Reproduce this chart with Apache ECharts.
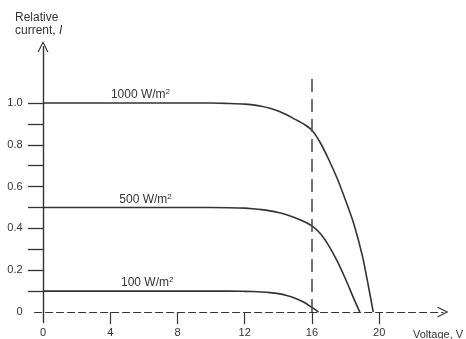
<!DOCTYPE html>
<html>
<head>
<meta charset="utf-8">
<script src="https://cdn.jsdelivr.net/npm/echarts@6/dist/echarts.min.js"></script>
<style>
html,body{margin:0;padding:0;background:#fff;}
#chart{width:466px;height:339px;}
</style>
</head>
<body>
<div id="chart"></div>
<script>
// Data
const voltage1000 = [0, 2, 4, 6, 8, 10, 11, 12, 12.5, 13, 13.5, 14, 14.5, 15, 15.5, 16, 16.5, 17, 17.5, 18, 18.5, 19, 19.3, 19.65];
const current1000 = [1, 1, 1, 1, 1, 1, 0.998, 0.995, 0.991, 0.985, 0.975, 0.962, 0.944, 0.922, 0.9, 0.87, 0.81, 0.73, 0.64, 0.535, 0.42, 0.27, 0.15, 0];
const voltage500 = [0, 2, 4, 6, 8, 10, 11, 12, 12.5, 13, 13.5, 14, 14.5, 15, 15.5, 16, 16.5, 17, 17.5, 18, 18.5, 18.85];
const current500 = [0.5, 0.5, 0.5, 0.5, 0.5, 0.5, 0.499, 0.497, 0.494, 0.49, 0.484, 0.476, 0.465, 0.451, 0.434, 0.412, 0.376, 0.318, 0.245, 0.158, 0.063, 0];
const voltage100 = [0, 2, 4, 6, 8, 10, 11, 12, 12.5, 13, 13.5, 14, 14.5, 15, 15.5, 16, 16.4];
const current100 = [0.1, 0.1, 0.1, 0.1, 0.1, 0.1, 0.1, 0.099, 0.098, 0.096, 0.093, 0.088, 0.079, 0.066, 0.048, 0.022, 0];
const seriesNames = ['1000 W/m²', '500 W/m²', '100 W/m²'];
const labelAnchors = [[5.8, 1.0], [6.1, 0.5], [6.2, 0.1]];
const xTickValues = [4, 8, 12, 16, 20];
const xLabelValues = [0, 4, 8, 12, 16, 20];
const yTickValues = [0.1, 0.2, 0.3, 0.4, 0.5, 0.6, 0.7, 0.8, 0.9, 1.0];
const yLabelValues = [0, 0.2, 0.4, 0.6, 0.8, 1.0];
const cutoffVoltage = 16;
const cutoffTop = 1.14;

const ink = '#333';
const font = 'Liberation Sans, Arial, Helvetica, sans-serif';
const chevron = 'path://M50,0 L100,100 L88,100 L50,22 L12,100 L0,100 Z';

function pairs(xs, ys) { return xs.map((x, i) => [x, ys[i]]); }

const allData = [pairs(voltage1000, current1000), pairs(voltage500, current500), pairs(voltage100, current100)];

const series = allData.map((d, i) => {
  const s = {
    name: seriesNames[i],
    type: 'line',
    data: d,
    smooth: 0.3,
    showSymbol: false,
    silent: true,
    lineStyle: { color: ink, width: 1.6 },
    markPoint: {
      symbol: 'circle',
      symbolSize: 0,
      silent: true,
      data: [{ coord: labelAnchors[i] }],
      label: {
        show: true,
        position: 'top',
        distance: 1,
        formatter: () => '{a|' + seriesNames[i].replace('²', '') + '}{s|2}',
        rich: {
          a: { fontSize: 12, color: ink, fontFamily: font },
          s: { fontSize: 8, color: ink, fontFamily: font, verticalAlign: 'top', padding: [0, 0, 6, 0] }
        }
      }
    }
  };
  if (i === 0) {
    s.markLine = {
      silent: true,
      symbol: 'none',
      label: { show: false },
      lineStyle: { color: '#444', width: 1.5, type: [13, 7] },
      data: [[{ coord: [cutoffVoltage, 0] }, { coord: [cutoffVoltage, cutoffTop] }]]
    };
  }
  return s;
});

const chart = echarts.init(document.getElementById('chart'), null, { renderer: 'canvas' });
chart.setOption({
  backgroundColor: '#fff',
  animation: false,
  grid: { left: 34.6, right: 23, top: 46.6, bottom: 16.5, containLabel: false, outerBoundsMode: 'none' },
  xAxis: {
    type: 'value',
    min: -0.5,
    max: 23.8,
    splitLine: { show: false },
    axisLine: {
      onZero: true,
      symbol: ['none', chevron],
      symbolSize: [11, 24],
      lineStyle: { color: ink, width: 1.2, type: [7, 4] }
    },
    axisTick: { show: true, customValues: xTickValues, length: 12, lineStyle: { color: ink, width: 1.2 } },
    axisLabel: {
      customValues: xLabelValues,
      margin: 5,
      fontSize: 11,
      color: ink,
      fontFamily: font,
      formatter: v => String(v)
    }
  },
  yAxis: {
    type: 'value',
    min: -0.05,
    max: 1.27,
    splitLine: { show: false },
    axisLine: {
      onZero: true,
      symbol: ['none', chevron],
      symbolSize: [11, 20],
      lineStyle: { color: ink, width: 1.4 }
    },
    axisTick: { show: true, customValues: yTickValues, length: 15, lineStyle: { color: ink, width: 1.3 } },
    axisLabel: {
      customValues: yLabelValues,
      margin: 12,
      fontSize: 11,
      color: ink,
      fontFamily: font,
      formatter: v => (v === 0 ? '0' : v.toFixed(1))
    }
  },
  graphic: [
    {
      type: 'text', left: 15, top: 12, silent: true,
      style: {
        text: '{n|Relative}\n{n|current, }{i|I}',
        rich: {
          n: { fontSize: 12, fill: ink, fontFamily: font, lineHeight: 13 },
          i: { fontSize: 12, fill: ink, fontFamily: font, fontStyle: 'italic', lineHeight: 13 }
        }
      }
    },
    {
      type: 'text', left: 413, top: 329, silent: true,
      style: { text: 'Voltage, V', fontSize: 11, fill: ink, fontFamily: font }
    }
  ],
  series: series
});
</script>
</body>
</html>
